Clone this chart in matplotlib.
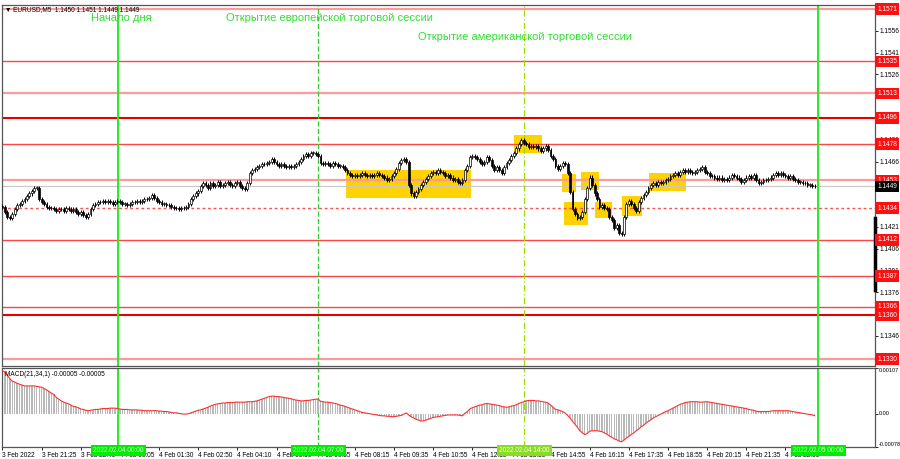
import numpy as np
import matplotlib.pyplot as plt
from matplotlib.transforms import blended_transform_factory

# EURUSD M5, closes in pips above 1.1400, one value per bar
base = 1.1400
close_pips = [
    35, 31, 28, 27, 30, 33, 36, 37, 39, 40,
    42, 44, 46, 48, 48, 40, 38, 37, 35, 34,
    34, 33, 32, 33, 33, 32, 34, 33, 32, 33,
    31, 30, 31, 29, 28, 30, 33, 36, 37, 38,
    38, 39, 38, 39, 38, 37, 38, 39, 38, 37,
    37, 36, 37, 38, 38, 39, 38, 39, 40, 40,
    41, 43, 41, 39, 38, 37, 37, 36, 36, 35,
    34, 34, 33, 34, 34, 35, 37, 40, 42, 44,
    46, 49, 51, 50, 48, 51, 49, 50, 52, 49,
    50, 51, 52, 50, 49, 51, 52, 49, 48, 47,
    51, 58, 60, 61, 62, 63, 64, 64, 65, 66,
    68, 66, 64, 63, 64, 63, 62, 63, 62, 63,
    64, 66, 68, 70, 71, 70, 72, 72, 71, 70,
    65, 64, 65, 64, 63, 65, 64, 63, 63, 62,
    60, 58, 57, 56, 57, 56, 57, 58, 57, 56,
    57, 56, 57, 58, 57, 56, 55, 53, 54, 56,
    58, 61, 65, 67, 68, 66, 50, 44, 42, 45,
    47, 50, 52, 54, 56, 58, 59, 58, 60, 59,
    58, 56, 57, 55, 53, 54, 52, 51, 53, 60,
    63, 69, 70, 69, 68, 66, 64, 66, 69, 67,
    63, 60, 62, 60, 58, 62, 65, 67, 70, 72,
    75, 78, 81, 79, 78, 76, 77, 76, 77, 75,
    73, 75, 77, 74, 70, 68, 63, 61, 63, 65,
    64, 58, 45, 33, 30, 27, 28, 31, 40, 48,
    55, 50, 44, 40, 35, 36, 34, 33, 28, 26,
    20, 22, 17, 16, 28, 37, 39, 37, 34, 32,
    38, 41, 43, 45, 48, 50, 51, 50, 52, 51,
    52, 53, 54, 56, 57, 58, 57, 59, 60, 59,
    60, 59, 58, 59, 60, 61, 62, 59, 58, 56,
    56, 55, 54, 55, 53, 54, 53, 55, 57, 56,
    55, 54, 52, 53, 55, 56, 55, 57, 53, 51,
    52, 53, 53, 54, 55, 57, 58, 57, 58, 57,
    56, 55, 56, 54, 53, 52, 52, 51, 51, 50, 50, 49, 49,
]

# MACD(21,34,1) in units of 1e-5, one value per bar
macd_e5 = [
    101, 97, 90, 82, 76, 74, 71, 69, 67, 65,
    65, 65, 65, 65, 64, 63, 62, 59, 56, 52,
    48, 45, 38, 34, 30, 27, 25, 23, 20, 17,
    16, 14, 11, 10, 8, 7, 8, 9, 10, 10,
    11, 12, 12, 12, 13, 13, 13, 12, 11, 10,
    10, 10, 9, 9, 9, 9, 8, 8, 7, 7,
    7, 7, 7, 7, 6, 6, 5, 5, 4, 3,
    2, 2, 1, 0, -1, -1, 0, 2, 4, 6,
    8, 9, 11, 13, 15, 18, 20, 22, 23, 24,
    25, 25, 26, 26, 26, 27, 27, 27, 27, 27,
    28, 28, 28, 29, 30, 32, 34, 36, 38, 40,
    41, 41, 40, 40, 39, 38, 37, 36, 35, 33,
    32, 31, 30, 30, 31, 31, 32, 33, 34, 34,
    29, 28, 27, 27, 26, 25, 24, 22, 20, 19,
    17, 15, 13, 11, 9, 7, 5, 3, 2, 1,
    0, -1, -2, -3, -4, -5, -5, -6, -6, -7,
    -7, -6, -5, -4, -1, 2, -3, -7, -10, -13,
    -15, -17, -17, -15, -13, -11, -9, -8, -7, -6,
    -5, -4, -3, -3, -3, -3, -3, -4, -5, 1,
    5, 11, 14, 16, 18, 20, 21, 23, 24, 23,
    22, 21, 20, 19, 17, 16, 15, 16, 18, 19,
    21, 24, 26, 28, 30, 31, 31, 31, 30, 30,
    29, 28, 27, 25, 20, 15, 10, 9, 7, 5,
    1, -4, -11, -18, -25, -32, -40, -45, -49, -46,
    -41, -40, -40, -40, -41, -42, -45, -48, -52, -55,
    -59, -61, -64, -66, -62, -57, -53, -49, -45, -40,
    -36, -31, -27, -22, -18, -14, -10, -7, -4, -1,
    2, 5, 7, 10, 13, 16, 19, 22, 24, 26,
    27, 28, 28, 28, 28, 27, 27, 28, 28, 27,
    26, 25, 24, 23, 22, 21, 20, 19, 18, 17,
    16, 15, 14, 13, 12, 10, 9, 8, 6, 5,
    5, 5, 5, 5, 6, 7, 7, 7, 7, 7,
    7, 7, 6, 5, 4, 3, 2, 1, 0, -1, -2, -3, -5,
]

# support / resistance levels
levels = [1.1571, 1.1535, 1.1513, 1.1496, 1.1478, 1.1453, 1.1434,
          1.1412, 1.1387, 1.1366, 1.1360, 1.1330]
level_kind = ["light", "red", "light", "strong", "red", "light", "dotted",
              "red", "red", "red", "strong", "light"]
current_price = 1.1449

# yellow zones: bar from, bar to, low pips, high pips
zone_from = [140.2, 209.0, 228.5, 229.3, 236.6, 242.3, 253.4, 264.4]
zone_to = [191.3, 220.3, 234.6, 239.5, 243.6, 249.3, 261.5, 279.5]
zone_low = [40.9, 71.8, 44.9, 22.3, 46.4, 27.0, 28.5, 45.7]
zone_high = [60.1, 84.2, 57.4, 38.1, 58.8, 38.1, 42.0, 58.0]

# session lines
event_bar = [47.4, 129.1, 213.3, 333.5]
event_label = ["2022.02.04 00:00", "2022.02.04 07:00", "2022.02.04 14:00", "2022.02.05 00:00"]
event_kind = ["day", "eu", "us", "day"]

time_labels = ["3 Feb 2022", "3 Feb 21:25", "3 Feb 22:45", "4 Feb 00:05", "4 Feb 01:30",
               "4 Feb 02:50", "4 Feb 04:10", "4 Feb 05:30", "4 Feb 06:55", "4 Feb 08:15",
               "4 Feb 09:35", "4 Feb 10:55", "4 Feb 12:15", "4 Feb 13:35", "4 Feb 14:55",
               "4 Feb 16:15", "4 Feb 17:35", "4 Feb 18:55", "4 Feb 20:15", "4 Feb 21:35",
               "4 Feb 22:55"]
price_ticks = [1.1556, 1.1541, 1.1526, 1.1511, 1.1496, 1.1481, 1.1466, 1.1451, 1.1436,
               1.1421, 1.1406, 1.1391, 1.1376, 1.1361, 1.1346, 1.1331]

plt.rcParams['font.family'] = ['Liberation Sans', 'DejaVu Sans']

close = base + np.array(close_pips) / 10000.0
opens = np.r_[close[0] + 0.00003, close[:-1]]
idx = np.arange(len(close))
macd = np.array(macd_e5) * 1e-5
wick = 0.00014
small = 4.7

fig = plt.figure(figsize=(9, 4.59), dpi=100)
ax = fig.add_axes([2/900, 1-366/459, 873/900, 361/459])
ax2 = fig.add_axes([2/900, 1-447/459, 873/900, 79/459], sharex=ax)

green_txt = '#33dd33'
line_style = {
    "day": dict(color='#22ee22', lw=1.4, ls='-'),
    "eu": dict(color='#33cc33', lw=0.9, ls=(0, (4, 2))),
    "us": dict(color='#99e000', lw=0.9, ls=(0, (5, 2, 1, 2))),
}
box_color = {"day": '#00ee00', "eu": '#00ee00', "us": '#88dd22'}
level_style = {
    "light": dict(color='#ff9a9a', lw=1.6, ls='-'),
    "red": dict(color='#ff4545', lw=1.0, ls='-'),
    "strong": dict(color='#e80000', lw=1.5, ls='-'),
    "dotted": dict(color='#ff5050', lw=1.0, ls=(0, (2, 2))),
}

# zones
for a, b, lo, hi in zip(zone_from, zone_to, zone_low, zone_high):
    ax.add_patch(plt.Rectangle((a, base + lo / 1e4), b - a, (hi - lo) / 1e4,
                               facecolor='#ffd200', edgecolor='none', zorder=1))

# levels
for lv, k in zip(levels, level_kind):
    ax.axhline(lv, zorder=1.5, **level_style[k])
ax.axhline(current_price, color='#c8c8c8', lw=0.8, zorder=1.4)

# candles
hi = np.maximum(opens, close) + wick
lo = np.minimum(opens, close) - wick
ax.vlines(idx, lo, hi, color='black', lw=0.7, zorder=3)
up = close >= opens
body = np.maximum(np.abs(close - opens), 0.00003)
ax.bar(idx[up], body[up], bottom=np.minimum(opens, close)[up], width=0.75,
       facecolor='white', edgecolor='black', linewidth=0.5, zorder=4)
ax.bar(idx[~up], body[~up], bottom=np.minimum(opens, close)[~up], width=0.75,
       facecolor='black', edgecolor='black', linewidth=0.5, zorder=4)

# session lines
for xb, k in zip(event_bar, event_kind):
    ax.axvline(xb, zorder=2, **line_style[k])
    ax2.axvline(xb, zorder=2, **line_style[k])

ax.set_xlim(-0.2, 356.6)
ax.set_ylim(1.13252, 1.15738)

ax.text(36, 1.15648, "Начало дня", color=green_txt, fontsize=8, va='center')
ax.text(91.5, 1.15648, "Открытие европейской торговой сессии", color=green_txt, fontsize=8, va='center')
ax.text(170, 1.15517, "Открытие американской торговой сессии", color=green_txt, fontsize=8, va='center')
ax.text(0.003, 0.997, "▼ EURUSD,M5  1.1450 1.1451 1.1449 1.1449", transform=ax.transAxes,
        fontsize=small, va='top', ha='left')

# price axis
ax.yaxis.tick_right()
ax.set_yticks(price_ticks)
ax.set_yticklabels([f"{p:.4f}" for p in price_ticks])
ax.tick_params(axis='y', length=2, width=0.6, labelsize=small, pad=1.5)
ax.tick_params(axis='x', bottom=False, labelbottom=False)
trans = blended_transform_factory(ax.transAxes, ax.transData)
for lv in levels:
    ax.text(1.0025, lv, f"{lv:.4f}", transform=trans, fontsize=small, color='white', va='center',
            ha='left', clip_on=False, zorder=10,
            bbox=dict(boxstyle='square,pad=0.35', facecolor='#ff1010', edgecolor='none'))
ax.text(1.0025, current_price, f"{current_price:.4f}", transform=trans, fontsize=small, color='white',
        va='center', ha='left', clip_on=False, zorder=10,
        bbox=dict(boxstyle='square,pad=0.3', facecolor='black', edgecolor='none'))
ax.plot([1.0, 1.0], [1.13775, 1.14271], transform=trans, color='black', lw=2.5,
        clip_on=False, zorder=9)

# MACD panel
ax2.bar(idx, macd, width=0.55, color='#b8b8b8', zorder=2)
ax2.plot(idx, macd, color='#ff3030', lw=0.8, zorder=3)
ax2.set_ylim(-0.00078, 0.00107)
ax2.yaxis.tick_right()
ax2.set_yticks([0.00107, 0.0, -0.00078])
ax2.set_yticklabels(["0.00107", "0.00", "-0.00078"])
ax2.tick_params(axis='y', length=2, width=0.6, labelsize=4.0, pad=0.8)
for lab, va in zip(ax2.get_yticklabels(), ['top', 'center', 'bottom']):
    lab.set_va(va)
ax2.text(0.003, 0.96, "MACD(21,34,1) -0.00005 -0.00005", transform=ax2.transAxes,
         fontsize=small, va='top', ha='left')

ax2.set_xticks(np.arange(len(time_labels)) * 16)
ax2.set_xticklabels(time_labels, ha='left')
ax2.tick_params(axis='x', length=2, width=0.6, labelsize=small, pad=1.5)
for xb, lab, k in zip(event_bar, event_label, event_kind):
    ax2.text(xb, -0.00078, lab, fontsize=small, color='white', ha='center', va='top',
             clip_on=False, zorder=10,
             bbox=dict(boxstyle='square,pad=0.3', facecolor=box_color[k], edgecolor='none'))

for a in (ax, ax2):
    for s in a.spines.values():
        s.set_color('#555555')
        s.set_linewidth(0.9)

fig.savefig("out.png", dpi=100)
